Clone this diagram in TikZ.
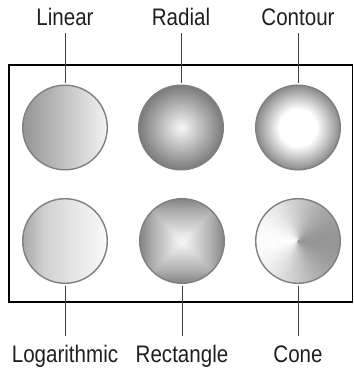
\documentclass[tikz,border=0pt]{standalone}
\usepackage{fontspec}
\setmainfont{Liberation Sans}[FakeStretch=0.86]
\usetikzlibrary{positioning}

% fills of the six balls
\pgfdeclarehorizontalshading{linsh}{100bp}{color(0bp)=(black!42); color(25bp)=(black!42); color(75bp)=(black!5); color(100bp)=(black!5)}
\pgfdeclarehorizontalshading{logsh}{100bp}{color(0bp)=(black!34); color(25bp)=(black!34); color(38bp)=(black!18); color(55bp)=(black!10); color(75bp)=(black!2); color(100bp)=(black!2)}
\pgfdeclareradialshading{radsh}{\pgfpoint{0bp}{0bp}}{color(0bp)=(black!3); color(25bp)=(black!52); color(50bp)=(black!52)}
\pgfdeclareradialshading{consh}{\pgfpoint{0bp}{0bp}}{color(0bp)=(white); color(11bp)=(white); color(25bp)=(black!46); color(50bp)=(black!46)}
\pgfdeclareverticalshading{rectsh}{100bp}{color(0bp)=(black!2); color(25bp)=(black!2); color(40bp)=(black!15); color(60bp)=(black!32); color(75bp)=(black!48); color(100bp)=(black!48)}

\begin{document}
\begin{tikzpicture}[x=1bp,y=1bp,node distance=50bp,
 ball/.style={circle,draw=black!50,line width=1.4bp,minimum size=84.6bp,inner sep=0pt,outer sep=2.5bp},
 lbl/.style={font=\fontsize{24}{28}\selectfont,text=black!88,text height=24bp,text depth=4bp,inner sep=3bp,outer sep=0pt},
 tick/.style={draw=black!75,line width=1bp}]
\useasboundingbox (0,0) rectangle (354,368);
\draw[line width=1.3bp] (9,66) rectangle (352.5,303);

% top row
\node[ball,shade,shading=linsh] (lin) at (65,240.5) {};
\node[ball,shade,shading=radsh] (rad) at (181,240.5) {};
\node[ball,shade,shading=consh] (con) at (298,240.5) {};
% bottom row
\node[ball,fill=black!30,path picture={
  \coordinate (c) at (path picture bounding box.center);
  \shade[shading=rectsh] (c) -- (path picture bounding box.north west) -- (path picture bounding box.north east) -- cycle;
  \shade[shading=rectsh,shading angle=180] (c) -- (path picture bounding box.south west) -- (path picture bounding box.south east) -- cycle;
  \shade[shading=rectsh,shading angle=90] (c) -- (path picture bounding box.north west) -- (path picture bounding box.south west) -- cycle;
  \shade[shading=rectsh,shading angle=-90] (c) -- (path picture bounding box.north east) -- (path picture bounding box.south east) -- cycle;
 }] (rect) at (182,127) {};
\node[ball,shade,shading=logsh] (log) at (65,127) {};
\node[ball,fill=black!20,path picture={
  \foreach \a in {0,3,...,357}{
   \pgfmathsetmacro\dk{21+20*cos(\a)}
   \filldraw[black!\dk,line width=0.6bp] (path picture bounding box.center) -- +(\a-2:60bp) -- +(\a+2:60bp) -- cycle;
  }
 }] (cone) at (298,127) {};

\node[lbl,above=of lin] (lin-t) {Linear};
\node[lbl,above=of rad] (rad-t) {Radial};
\node[lbl,above=of con] (con-t) {Contour};
\node[lbl,below=of log] (log-t) {Logarithmic};
\node[lbl,below=of rect] (rect-t) {Rectangle};
\node[lbl,below=of cone] (cone-t) {Cone};

\draw[tick] (lin-t) -- (lin);
\draw[tick] (rad-t) -- (rad);
\draw[tick] (con-t) -- (con);
\draw[tick] (log) -- (log-t);
\draw[tick] (rect) -- (rect-t);
\draw[tick] (cone) -- (cone-t);
\end{tikzpicture}
\end{document}
